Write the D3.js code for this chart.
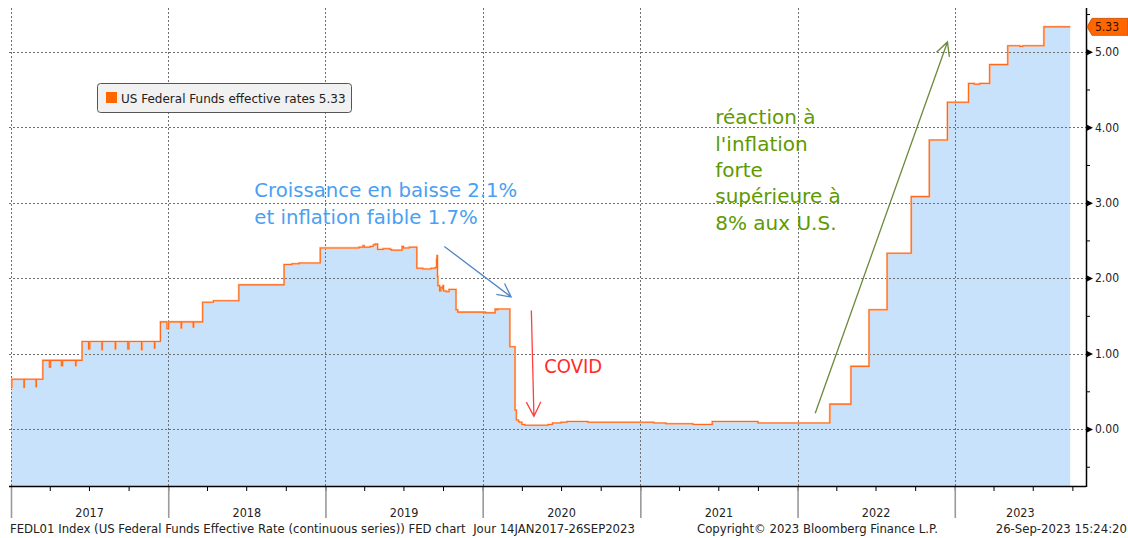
<!DOCTYPE html>
<html><head><meta charset="utf-8">
<script src="https://cdn.jsdelivr.net/npm/d3@7"></script>
<style>body{margin:0;background:#fff}svg{display:block}</style>
</head><body>
<svg id="c" width="1128" height="538"></svg>
<script>
// ---- data (change points of the daily effective rate, step series) ----
const dates = [
"2017-01-01","2017-01-03","2017-01-31","2017-02-01","2017-02-28","2017-03-01","2017-03-16",
"2017-03-31","2017-04-03","2017-04-28","2017-05-01","2017-05-31","2017-06-01","2017-06-15",
"2017-06-30","2017-07-03","2017-07-31","2017-08-01","2017-08-31","2017-09-01","2017-09-29",
"2017-10-02","2017-10-31","2017-11-01","2017-11-30","2017-12-01","2017-12-14","2017-12-29",
"2018-01-02","2018-01-31","2018-02-01","2018-02-28","2018-03-01","2018-03-22","2018-04-16",
"2018-06-14","2018-07-02","2018-09-27","2018-10-15","2018-11-01","2018-12-20",
"2019-03-20","2019-03-29","2019-04-01","2019-04-15","2019-04-22","2019-04-26","2019-05-02",
"2019-05-15","2019-05-31","2019-06-03","2019-06-28","2019-07-01","2019-07-15",
"2019-08-01","2019-08-15","2019-09-03","2019-09-13","2019-09-16","2019-09-17","2019-09-18",
"2019-09-19","2019-09-23","2019-09-26","2019-09-30","2019-10-01","2019-10-02","2019-10-08",
"2019-10-15","2019-10-31","2019-11-04","2020-01-07","2020-01-30","2020-02-03","2020-02-05",
"2020-03-04","2020-03-16","2020-03-19","2020-03-24","2020-03-26","2020-04-01","2020-04-08",
"2020-06-01","2020-06-11","2020-07-01","2020-07-15","2020-09-01",
"2021-02-01","2021-03-01","2021-05-03","2021-06-17","2021-10-01",
"2022-03-17","2022-05-05","2022-06-16","2022-07-28","2022-09-22","2022-11-03","2022-12-15",
"2023-02-02","2023-02-15","2023-02-28","2023-03-23","2023-05-04","2023-06-01","2023-06-08",
"2023-07-27","2023-09-26"];
const rates = [
0.55,0.66,0.55,0.66,0.56,0.66,0.91,
0.82,0.91,0.84,0.91,0.84,0.91,1.16,
1.06,1.16,1.05,1.16,1.06,1.16,1.06,
1.16,1.05,1.16,1.07,1.16,1.42,1.33,
1.42,1.34,1.42,1.35,1.42,1.68,1.70,
1.91,1.91,2.18,2.19,2.20,2.40,
2.41,2.43,2.41,2.42,2.44,2.45,2.38,
2.39,2.38,2.37,2.42,2.40,2.41,
2.13,2.12,2.13,2.14,2.25,2.30,2.02,
1.90,1.83,1.88,1.86,1.90,1.83,1.82,
1.85,1.58,1.55,1.54,1.59,1.58,1.59,
1.09,0.25,0.12,0.10,0.09,0.06,0.05,
0.06,0.08,0.09,0.10,0.09,
0.08,0.07,0.06,0.10,0.08,
0.33,0.83,1.58,2.33,3.08,3.83,4.33,
4.58,4.57,4.58,4.83,5.08,5.07,5.08,
5.33,5.33];
const yearLabels = ["2017","2018","2019","2020","2021","2022","2023"];
const yMajorTicks = [0,1,2,3,4,5];
const yMinorTicks = [-0.5,0.5,1.5,2.5,3.5,4.5,5.5];
const lastValue = 5.33;
const legendLabel = "US Federal Funds effective rates";
const footerLeft = "FEDL01 Index (US Federal Funds Effective Rate (continuous series)) FED chart\u00A0 Jour 14JAN2017-26SEP2023";
const footerMid = "Copyright\u00A9 2023 Bloomberg Finance L.P.";
const footerRight = "26-Sep-2023 15:24:20";
const blueNote = ["Croissance en baisse 2.1%", "et inflation faible 1.7%"];
const redNote = ["COVID"];
const greenNote = ["réaction à", "l'inflation", "forte", "supérieure à", "8% aux U.S."];
// annotation anchors in data space [date, value]
const blueNoteAt = ["2018-07-20", 3.07];
const blueArrow = [["2019-10-04", 2.42], ["2020-03-07", 1.75]];
const redNoteAt = ["2020-05-23", 0.74];
const redArrow = [["2020-04-23", 1.57], ["2020-04-29", 0.17]];
const greenNoteAt = ["2021-06-24", 4.04];
const greenArrow = [["2022-02-11", 0.21], ["2022-12-15", 5.13]];

// ---- layout ----
const FONT_C = "'DejaVu Sans Condensed','DejaVu Sans',sans-serif";
const FONT = "'DejaVu Sans',sans-serif";
const plotL = 9, plotR = 1086, plotT = 8, plotB = 486;
const parse = d3.timeParse("%Y-%m-%d");
const series = dates.map((d, i) => ({date: parse(d), v: rates[i]}));
const x = d3.scaleTime().domain([new Date(2017,0,1), new Date(2024,0,1)]).range([11, 1112]);
const y = d3.scaleLinear().domain([-0.755, 5.58]).range([plotB, plotT]);
const svg = d3.select("#c").style("font-family", FONT_C);

// area + line
svg.append("path").datum(series)
  .attr("d", d3.area().x(d => x(d.date)).y0(plotB).y1(d => y(d.v)).curve(d3.curveStepAfter))
  .attr("fill", "#c9e2fc");

// grid
const yearStarts = yearLabels.map(s => new Date(+s, 0, 1));
const grid = svg.append("g").attr("stroke", "#6f6f6f").attr("stroke-width", 1).attr("stroke-dasharray", "2,2").attr("fill", "none");
grid.selectAll(".h").data(yMajorTicks).join("line")
  .attr("x1", plotL).attr("x2", plotR).attr("y1", d => Math.round(y(d)) + 0.5).attr("y2", d => Math.round(y(d)) + 0.5);
grid.selectAll(".v").data(yearStarts).join("line")
  .attr("x1", d => Math.round(x(d)) + 0.5).attr("x2", d => Math.round(x(d)) + 0.5).attr("y1", plotT).attr("y2", plotB);

const lineGen = d3.line().x(d => x(d.date)).y(d => y(d.v)).curve(d3.curveStepAfter);
svg.append("path").datum(series).attr("d", lineGen).attr("fill", "none")
  .attr("stroke", "#ffc29e").attr("stroke-width", 2.2);
svg.append("path").datum(series).attr("d", lineGen).attr("fill", "none")
  .attr("stroke", "#ff6a1a").attr("stroke-width", 1.1);

// bottom axis
const quarterTicks = d3.timeMonth.every(3).range(new Date(2017,0,1), new Date(2023,10,1));
const bx = svg.append("g").attr("transform", `translate(0,${plotB})`)
  .call(d3.axisBottom(x).tickValues(quarterTicks).tickFormat("").tickSizeInner(5).tickSizeOuter(0));
bx.select(".domain").remove();
bx.selectAll(".tick line").attr("stroke", "#000");
const sep = svg.append("g").attr("transform", `translate(0,${plotB})`)
  .call(d3.axisBottom(x).tickValues(yearStarts).tickFormat("").tickSizeInner(32).tickSizeOuter(0));
sep.select(".domain").remove();
sep.selectAll(".tick line").attr("stroke", "#9a9a9a").attr("stroke-width", 1.6);
svg.append("line").attr("x1", plotL).attr("x2", plotR).attr("y1", plotB + 0.5).attr("y2", plotB + 0.5)
  .attr("stroke", "#000").attr("stroke-width", 1.4);
// year labels centred in visible year span
svg.append("g").selectAll("text").data(yearLabels).join("text")
  .attr("x", (d, i) => (x(yearStarts[i]) + Math.min(x(new Date(+d + 1, 0, 1)), plotR)) / 2)
  .attr("y", 516.5).attr("text-anchor", "middle").attr("font-size", 12.5).attr("fill", "#222").text(d => d);

// right axis
svg.append("line").attr("x1", plotR + 0.5).attr("x2", plotR + 0.5).attr("y1", plotT).attr("y2", plotB + 1)
  .attr("stroke", "#000").attr("stroke-width", 1.5);
const ry = svg.append("g").attr("transform", `translate(${plotR},0)`)
  .call(d3.axisRight(y).tickValues(yMajorTicks).tickFormat(d3.format(".2f")).tickSize(0).tickPadding(9));
ry.select(".domain").remove();
ry.selectAll(".tick text").attr("font-size", 12).attr("font-family", FONT_C).attr("fill", "#222");
ry.selectAll(".tick").append("path").attr("d", "M0,-3.5L7,0L0,3.5Z").attr("fill", "#000");
const rm = svg.append("g").attr("transform", `translate(${plotR},0)`)
  .call(d3.axisRight(y).tickValues(yMinorTicks).tickFormat("").tickSize(4));
rm.select(".domain").remove();
rm.selectAll(".tick line").attr("stroke", "#000");

// last value tag
const ty = y(lastValue);
svg.append("path")
  .attr("d", `M${plotR + 1},${ty} L${plotR + 6},${ty - 8.5} L1128,${ty - 8.5} L1128,${ty + 8.5} L${plotR + 6},${ty + 8.5} Z`)
  .attr("fill", "#ff6600").attr("stroke", "#c84d00").attr("stroke-width", 0.8);
svg.append("text").attr("x", plotR + 9).attr("y", ty + 4.5).attr("font-size", 12).attr("fill", "#2a1200")
  .text(d3.format(".2f")(lastValue));

// legend
const lg = svg.append("g");
lg.append("rect").attr("x", 97.5).attr("y", 83.5).attr("width", 254).attr("height", 29).attr("rx", 3)
  .attr("fill", "#f1f1f1").attr("stroke", "#555");
lg.append("rect").attr("x", 106).attr("y", 92).attr("width", 11).attr("height", 11).attr("fill", "#ff6600");
lg.append("text").attr("x", 121).attr("y", 103).attr("font-size", 12).attr("font-family", FONT).attr("fill", "#222")
  .text(legendLabel + " " + d3.format(".2f")(lastValue));

// annotations
function note(lines, at, color, font, size) {
  const t = svg.append("text").attr("font-size", size).attr("font-family", font).attr("fill", color);
  lines.forEach((l, i) => t.append("tspan").attr("x", x(parse(at[0]))).attr("y", y(at[1]) + i * 26.4).text(l));
}
function arrow(seg, color, w, len) {
  const x1 = x(parse(seg[0][0])), y1 = y(seg[0][1]), x2 = x(parse(seg[1][0])), y2 = y(seg[1][1]);
  const a = Math.atan2(y2 - y1, x2 - x1), s = 0.47;
  const p = d3.path();
  p.moveTo(x1, y1); p.lineTo(x2, y2);
  p.moveTo(x2 - len * Math.cos(a - s), y2 - len * Math.sin(a - s)); p.lineTo(x2, y2);
  p.lineTo(x2 - len * Math.cos(a + s), y2 - len * Math.sin(a + s));
  svg.append("path").attr("d", p.toString()).attr("fill", "none").attr("stroke", color).attr("stroke-width", w);
}
note(blueNote, blueNoteAt, "#4a9ff2", FONT, 19.7);
arrow(blueArrow, "#4f86c6", 1.3, 15);
note(redNote, redNoteAt, "#ff2a2a", FONT_C, 20);
arrow(redArrow, "#ff4040", 1.3, 16);
note(greenNote, greenNoteAt, "#5e9a00", FONT, 20);
arrow(greenArrow, "#6a8a3c", 1.3, 15);

// footer
const ft = svg.append("g").attr("font-family", FONT).attr("font-size", 11.7).attr("fill", "#222");
ft.append("text").attr("x", 10).attr("y", 533).text(footerLeft);
ft.append("text").attr("x", 697).attr("y", 533).text(footerMid);
ft.append("text").attr("x", 1127).attr("y", 533).attr("text-anchor", "end").text(footerRight);
</script>
</body></html>
